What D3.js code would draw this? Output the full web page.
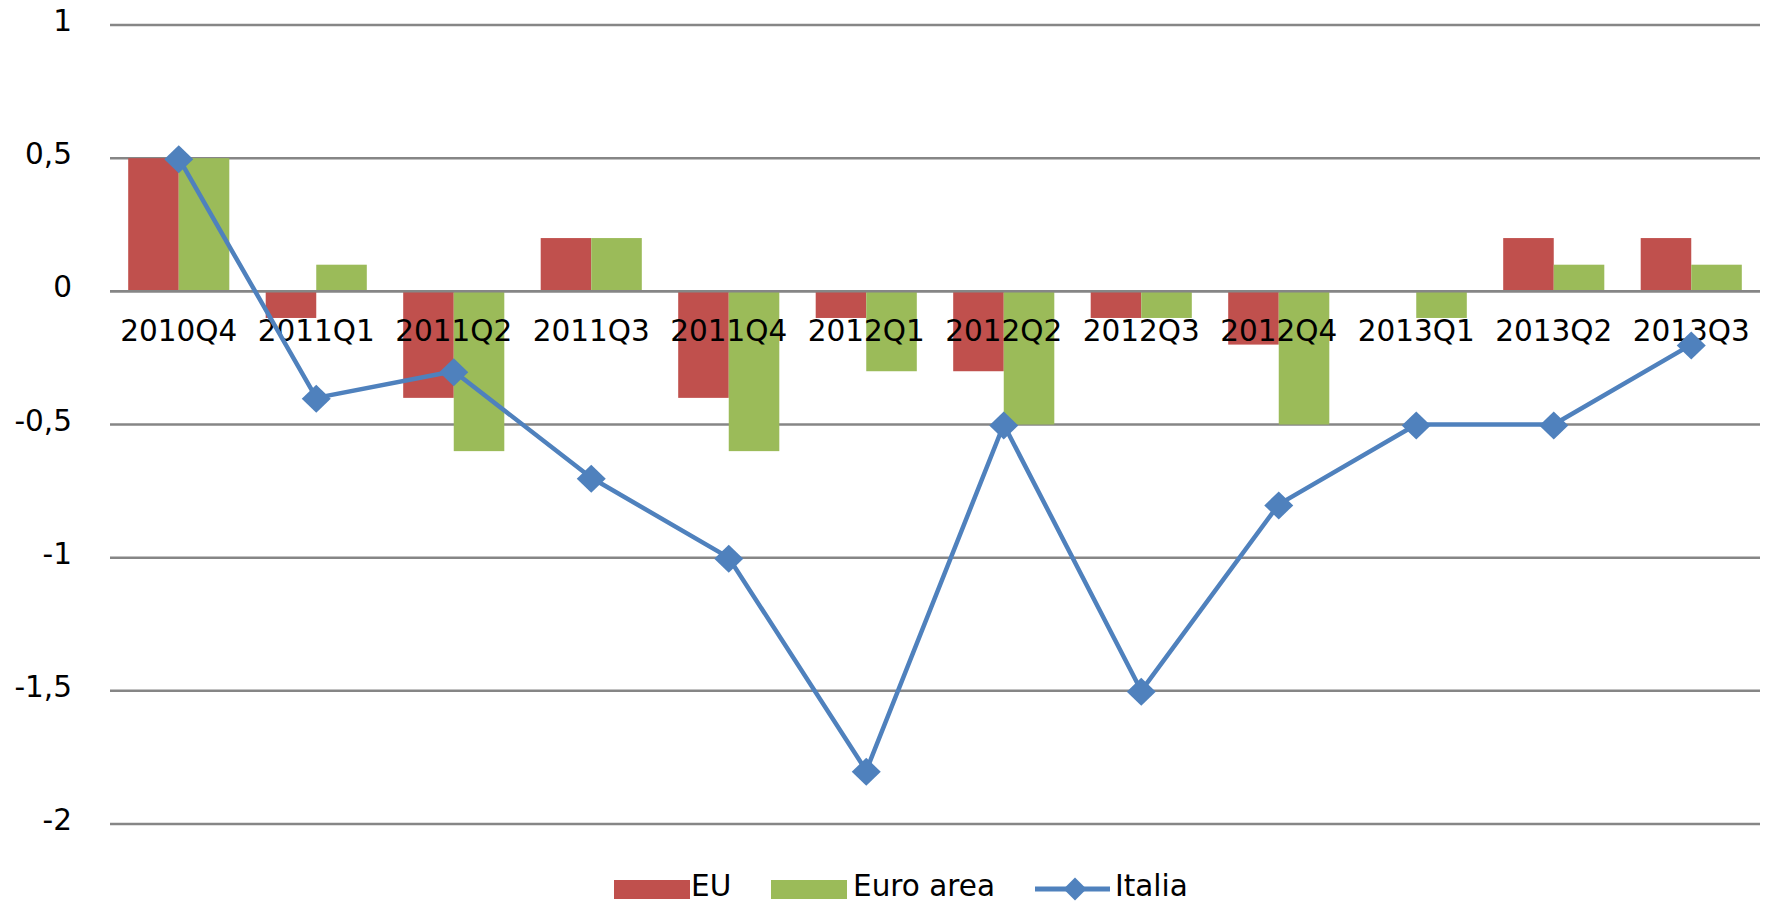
<!DOCTYPE html>
<html>
<head>
<meta charset="utf-8">
<script src="https://cdn.jsdelivr.net/npm/d3@7"></script>
<style>
  html, body { margin: 0; padding: 0; background: #fff; }
  svg { display: block; }
  text { font-family: "DejaVu Sans", sans-serif; }
</style>
</head>
<body>
<svg id="chart" width="1769" height="903"></svg>
<script>
// ---- data ----
const categories = ["2010Q4","2011Q1","2011Q2","2011Q3","2011Q4","2012Q1","2012Q2","2012Q3","2012Q4","2013Q1","2013Q2","2013Q3"];
const euValues = [0.5, -0.1, -0.4, 0.2, -0.4, -0.1, -0.3, -0.1, -0.2, 0, 0.2, 0.2];
const euroAreaValues = [0.5, 0.1, -0.6, 0.2, -0.6, -0.3, -0.5, -0.1, -0.5, -0.1, 0.1, 0.1];
const italiaValues = [0.5, -0.4, -0.3, -0.7, -1.0, -1.8, -0.5, -1.5, -0.8, -0.5, -0.5, -0.2];
const yTicks = [1, 0.5, 0, -0.5, -1, -1.5, -2];
const yTickLabels = ["1", "0,5", "0", "-0,5", "-1", "-1,5", "-2"];
const barSeries = ["EU", "Euro area"];
const lineSeries = "Italia";

// ---- styles ----
const colors = { "EU": "#C0504D", "Euro area": "#9BBB59", "Italia": "#4F81BD" };
const gridColor = "#868686";
const fontSize = 29.5;

const svg = d3.select("#chart");

const x0 = d3.scaleBand().domain(categories).range([110, 1760]).paddingInner(0).paddingOuter(0);
const x1 = d3.scaleBand().domain(barSeries).range([0, x0.bandwidth()]).paddingInner(0).paddingOuter(0.36);
const y = d3.scaleLinear().domain([-2, 1]).range([824, 25]);

// gridlines
svg.append("g").selectAll("line").data(yTicks).join("line")
  .attr("x1", 110).attr("x2", 1760)
  .attr("y1", d => y(d)).attr("y2", d => y(d))
  .attr("stroke", gridColor).attr("stroke-width", 2.5);

// y tick labels
svg.append("g").selectAll("text").data(yTicks).join("text")
  .attr("x", 72).attr("y", d => y(d) + 6)
  .attr("text-anchor", "end")
  .attr("font-size", fontSize)
  .attr("fill", "#000")
  .text((d, i) => yTickLabels[i]);

// bars
const barData = [];
categories.forEach((c, i) => {
  barData.push({ cat: c, key: "EU", v: euValues[i] });
  barData.push({ cat: c, key: "Euro area", v: euroAreaValues[i] });
});
svg.append("g").selectAll("rect").data(barData).join("rect")
  .attr("x", d => x0(d.cat) + x1(d.key))
  .attr("width", x1.bandwidth())
  .attr("y", d => Math.min(y(d.v), y(0)))
  .attr("height", d => Math.abs(y(d.v) - y(0)))
  .attr("fill", d => colors[d.key]);

// zero line on top
svg.append("line")
  .attr("x1", 110).attr("x2", 1760)
  .attr("y1", y(0)).attr("y2", y(0))
  .attr("stroke", gridColor).attr("stroke-width", 2.5);

// category labels
svg.append("g").selectAll("text").data(categories).join("text")
  .attr("x", d => x0(d) + x0.bandwidth() / 2)
  .attr("y", y(0) + 50)
  .attr("text-anchor", "middle")
  .attr("font-size", fontSize)
  .attr("fill", "#000")
  .text(d => d);

// line
const line = d3.line()
  .x((d, i) => x0(categories[i]) + x0.bandwidth() / 2)
  .y(d => y(d));
svg.append("path").datum(italiaValues)
  .attr("d", line)
  .attr("fill", "none")
  .attr("stroke", colors["Italia"])
  .attr("stroke-width", 4.5)
  .attr("stroke-linejoin", "round");

const diamond = (cx, cy, rx, ry) => `M${cx},${cy - ry}L${cx + rx},${cy}L${cx},${cy + ry}L${cx - rx},${cy}Z`;
svg.append("g").selectAll("path").data(italiaValues).join("path")
  .attr("d", (d, i) => diamond(x0(categories[i]) + x0.bandwidth() / 2, y(d) + 1, 14.5, 14))
  .attr("fill", colors["Italia"]);

// legend
const lg = svg.append("g");
const legendItems = [
  { key: "EU", type: "bar", sx: 614, tx: 691 },
  { key: "Euro area", type: "bar", sx: 771, tx: 853 },
  { key: lineSeries, type: "line", sx: 1035, tx: 1115 }
];
legendItems.forEach(it => {
  if (it.type === "bar") {
    lg.append("rect").attr("x", it.sx).attr("y", 880).attr("width", 76).attr("height", 19)
      .attr("fill", colors[it.key]);
  } else {
    lg.append("line").attr("x1", it.sx).attr("x2", it.sx + 75).attr("y1", 889).attr("y2", 889)
      .attr("stroke", colors[it.key]).attr("stroke-width", 5);
    lg.append("path").attr("d", diamond(it.sx + 40, 889, 11.5, 11.5)).attr("fill", colors[it.key]);
  }
  lg.append("text").attr("x", it.tx).attr("y", 896)
    .attr("font-size", fontSize).attr("fill", "#000").text(it.key);
});
</script>
</body>
</html>
